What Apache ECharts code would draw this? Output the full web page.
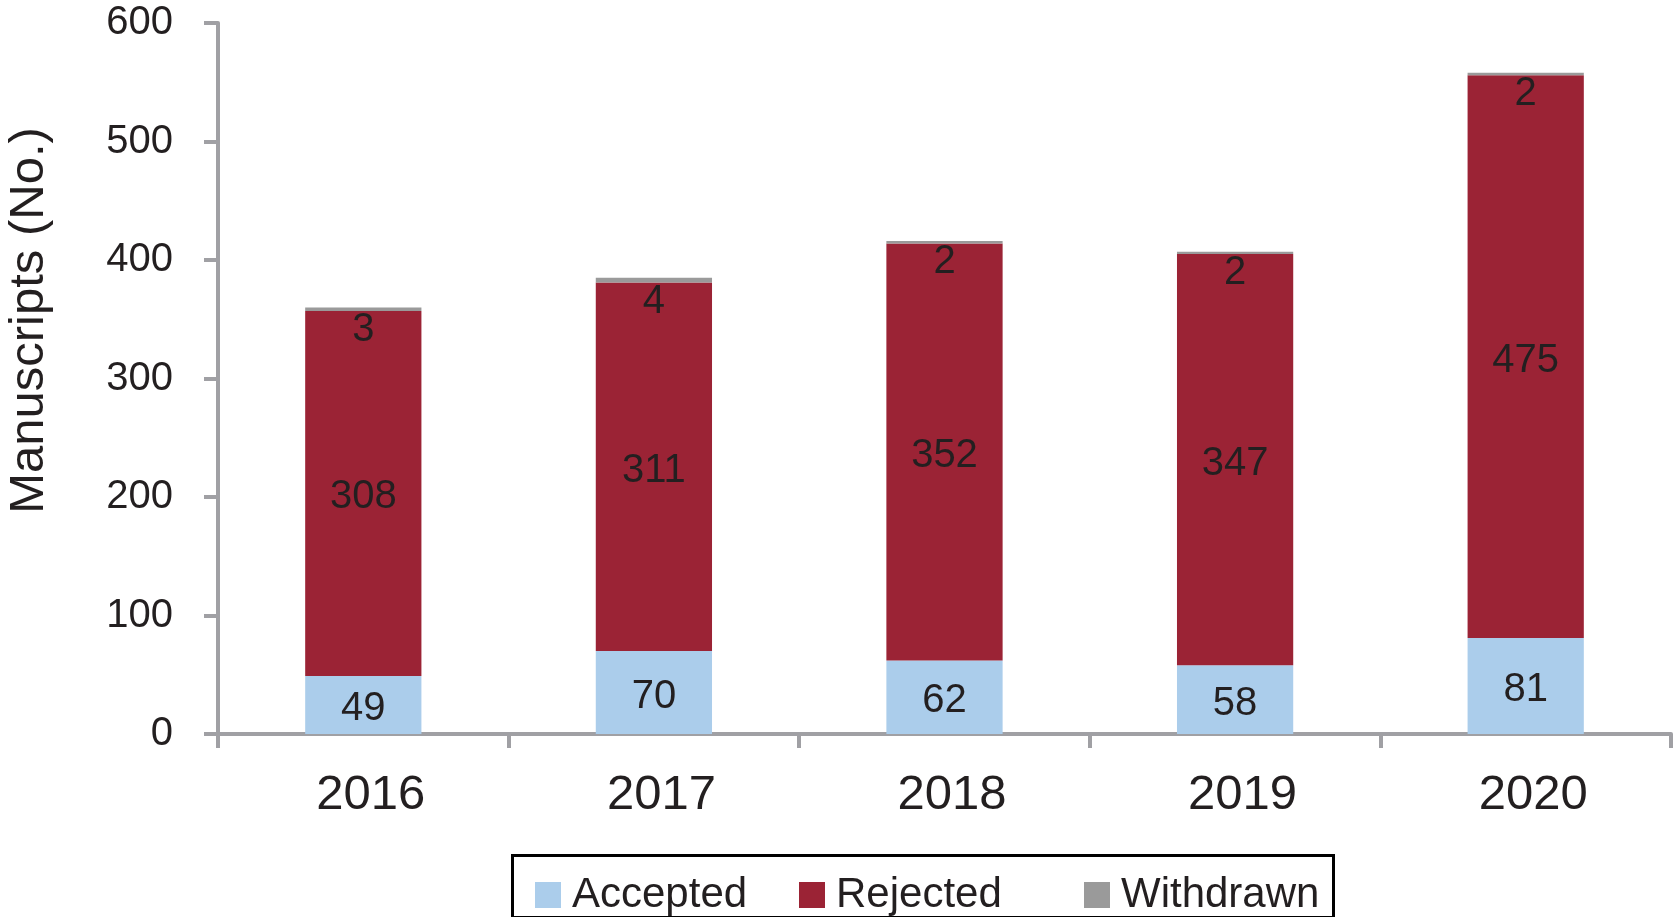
<!DOCTYPE html>
<html>
<head>
<meta charset="utf-8">
<script src="https://cdn.jsdelivr.net/npm/echarts@6/dist/echarts.min.js"></script>
<style>html,body{margin:0;padding:0;background:#fff;}#c{width:1674px;height:917px;}</style>
</head>
<body>
<div id="c"></div>
<script>
const years = ['2016', '2017', '2018', '2019', '2020'];
const accepted = [49, 70, 62, 58, 81];
const rejected = [308, 311, 352, 347, 475];
const withdrawn = [3, 4, 2, 2, 2];
const yTicks = [0, 100, 200, 300, 400, 500, 600];

const FONT = '"Liberation Sans", Arial, sans-serif';
const TXT = '#231f20';
const AX = '#a0a0a4';

const chart = echarts.init(document.getElementById('c'));
const lbl = {show: true, position: 'inside', color: TXT, fontSize: 40, fontFamily: FONT, offset: [0, 4]};
const legendCommon = {
  orient: 'horizontal', top: 869, itemWidth: 26, itemHeight: 26, icon: 'rect',
  textStyle: {fontSize: 42, color: TXT, fontFamily: FONT, padding: [0, 0, 0, 6]}
};
chart.setOption({
  animation: false,
  backgroundColor: '#fff',
  grid: {left: 218, right: 3, top: 23, bottom: 183, containLabel: false, outerBoundsMode: 'none'},
  legend: [
    Object.assign({left: 530, data: ['Accepted']}, legendCommon),
    Object.assign({left: 794, data: ['Rejected']}, legendCommon),
    Object.assign({left: 1079, data: ['Withdrawn']}, legendCommon)
  ],
  graphic: [{
    type: 'rect', left: 510, top: 853, shape: {width: 821, height: 62},
    style: {fill: 'none', stroke: '#000', lineWidth: 3}
  }],
  xAxis: {
    type: 'category', data: years,
    axisLine: {lineStyle: {color: AX, width: 4}},
    axisTick: {show: true, length: 14, lineStyle: {color: AX, width: 4}},
    axisLabel: {color: TXT, fontSize: 49, fontFamily: FONT, margin: 37, padding: [0, 0, 0, 15]}
  },
  yAxis: {
    type: 'value', min: yTicks[0], max: yTicks[yTicks.length - 1], interval: 100,
    name: 'Manuscripts (No.)', nameLocation: 'middle', nameGap: 164,
    nameTextStyle: {fontSize: 49, color: TXT, fontFamily: FONT, padding: [0, 0, 0, 116]},
    axisLine: {show: true, lineStyle: {color: AX, width: 4}},
    axisTick: {show: true, length: 14, lineStyle: {color: AX, width: 4}},
    axisLabel: {color: TXT, fontSize: 40, fontFamily: FONT, margin: 45},
    splitLine: {show: false}
  },
  series: [
    {name: 'Accepted', type: 'bar', stack: 't', barWidth: '40%', data: accepted,
     itemStyle: {color: '#abcdeb'}, label: lbl},
    {name: 'Rejected', type: 'bar', stack: 't', data: rejected,
     itemStyle: {color: '#9b2335'}, label: lbl},
    {name: 'Withdrawn', type: 'bar', stack: 't', data: withdrawn,
     itemStyle: {color: '#9a9a9a'},
     label: Object.assign({}, lbl, {position: 'bottom', distance: -5})}
  ]
});
</script>
</body>
</html>
